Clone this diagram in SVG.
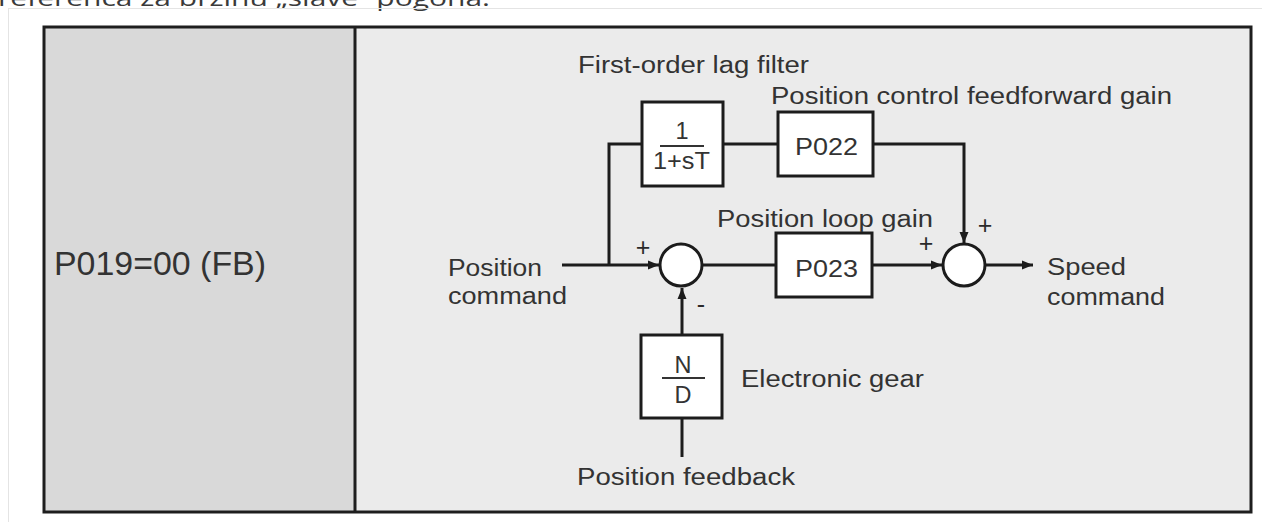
<svg xmlns="http://www.w3.org/2000/svg" width="1262" height="522" viewBox="0 0 1262 522">
  <style>
    .txt { font-family: "Liberation Sans", Arial, sans-serif; fill: #333; }
    .lbl { font-size: 23.5px; }
    .sign { font-family: "Liberation Sans", Arial, sans-serif; fill: #2a2a2a; font-size: 25px; text-anchor: middle; }
    .blk { fill: #ffffff; stroke: #1c1c1c; stroke-width: 3; }
    .wire { fill: none; stroke: #1c1c1c; stroke-width: 3; }
    .bar { stroke: #333; stroke-width: 2; }
  </style>
  <defs>
    <marker id="arrow" markerUnits="userSpaceOnUse" markerWidth="12" markerHeight="10" refX="11" refY="5" orient="auto">
      <path d="M0,0.5 L11,5 L0,9.5 z" fill="#1c1c1c"/>
    </marker>
  </defs>

  <!-- page -->
  <rect x="0" y="0" width="1262" height="522" fill="#ffffff"/>
  <text x="-2" y="6" font-family="'Open Sans', 'Noto Sans', sans-serif" font-size="22" fill="#3a3a3a" textLength="492" lengthAdjust="spacingAndGlyphs">referenca za brzinu „slave“ pogona.</text>
  <rect x="8.5" y="8.5" width="1270" height="530" fill="none" stroke="#e4e4e4" stroke-width="1"/>

  <!-- panels -->
  <g id="panel-mode">
    <rect x="44" y="27" width="311" height="485" fill="#d9d9d9"/>
    <text class="txt" x="54" y="275" font-size="34" textLength="212" lengthAdjust="spacingAndGlyphs">P019=00 (FB)</text>
  </g>
  <g id="panel-diagram">
    <rect x="355" y="27" width="896" height="485" fill="#ebebeb"/>
  </g>
  <rect x="44" y="27" width="1207" height="485" fill="none" stroke="#1e1e1e" stroke-width="3"/>
  <line x1="355" y1="27" x2="355" y2="512" stroke="#1e1e1e" stroke-width="3"/>

  <!-- connectors -->
  <g id="connectors">
    <path class="wire" d="M562,265 H659" marker-end="url(#arrow)"/>
    <path class="wire" d="M609,265 V144 H642"/>
    <path class="wire" d="M723,144 H778"/>
    <path class="wire" d="M873,144 H964 V243" marker-end="url(#arrow)"/>
    <path class="wire" d="M702,265 H776"/>
    <path class="wire" d="M872,265 H942" marker-end="url(#arrow)"/>
    <path class="wire" d="M986,265 H1033" marker-end="url(#arrow)"/>
    <path class="wire" d="M682,335 V288" marker-end="url(#arrow)"/>
    <path class="wire" d="M682,418 V457"/>
  </g>

  <!-- input / output labels -->
  <g id="position-command">
    <text class="txt lbl" x="448" y="276" textLength="94" lengthAdjust="spacingAndGlyphs">Position</text>
    <text class="txt lbl" x="448" y="304" textLength="119" lengthAdjust="spacingAndGlyphs">command</text>
  </g>
  <g id="speed-command">
    <text class="txt lbl" x="1047" y="275" textLength="79" lengthAdjust="spacingAndGlyphs">Speed</text>
    <text class="txt lbl" x="1047" y="305" textLength="118" lengthAdjust="spacingAndGlyphs">command</text>
  </g>

  <!-- first-order lag filter -->
  <g id="lag-filter">
    <rect class="blk" x="642" y="102" width="81" height="84"/>
    <text class="txt" x="682" y="139" font-size="23.5" text-anchor="middle">1</text>
    <line class="bar" x1="660" y1="146" x2="704" y2="146"/>
    <text class="txt" x="653" y="169" font-size="23.5" textLength="57" lengthAdjust="spacingAndGlyphs">1+sT</text>
    <text class="txt lbl" x="578" y="73" textLength="231" lengthAdjust="spacingAndGlyphs">First-order lag filter</text>
  </g>

  <!-- feedforward gain -->
  <g id="ff-gain">
    <rect class="blk" x="778" y="112" width="95" height="64"/>
    <text class="txt lbl" x="795" y="155" textLength="63" lengthAdjust="spacingAndGlyphs">P022</text>
    <text class="txt lbl" x="771" y="104" textLength="401" lengthAdjust="spacingAndGlyphs">Position control feedforward gain</text>
  </g>

  <!-- position loop gain -->
  <g id="loop-gain">
    <rect class="blk" x="776" y="233" width="96" height="64"/>
    <text class="txt lbl" x="795" y="277" textLength="63" lengthAdjust="spacingAndGlyphs">P023</text>
    <text class="txt lbl" x="717" y="227" textLength="216" lengthAdjust="spacingAndGlyphs">Position loop gain</text>
  </g>

  <!-- summing junctions -->
  <g id="sum-position">
    <circle class="blk" cx="681" cy="265" r="21"/>
    <text class="sign" x="643" y="256">+</text>
    <text class="sign" x="701" y="313">-</text>
  </g>
  <g id="sum-speed">
    <circle class="blk" cx="964" cy="265" r="21"/>
    <text class="sign" x="926" y="252">+</text>
    <text class="sign" x="985" y="234">+</text>
  </g>

  <!-- electronic gear -->
  <g id="electronic-gear">
    <rect class="blk" x="641" y="335" width="81" height="83"/>
    <text class="txt" x="683" y="373" font-size="23.5" text-anchor="middle">N</text>
    <line class="bar" x1="662" y1="378" x2="705" y2="378"/>
    <text class="txt" x="683" y="403" font-size="23.5" text-anchor="middle">D</text>
    <text class="txt lbl" x="741" y="387" textLength="183" lengthAdjust="spacingAndGlyphs">Electronic gear</text>
  </g>

  <g id="position-feedback">
    <text class="txt lbl" x="577" y="485" textLength="218" lengthAdjust="spacingAndGlyphs">Position feedback</text>
  </g>
</svg>
